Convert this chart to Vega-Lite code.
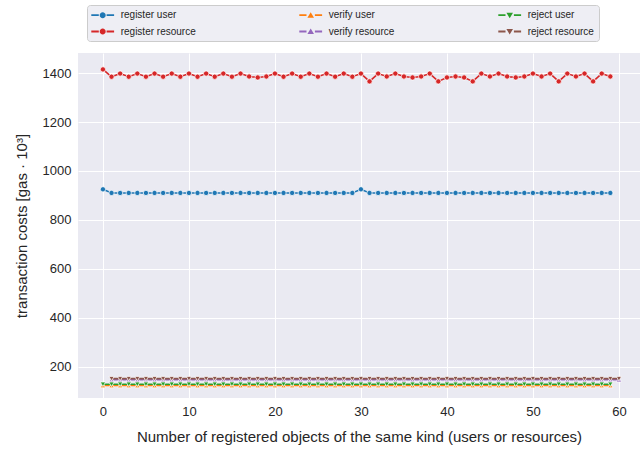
{
  "$schema": "https://vega.github.io/schema/vega-lite/v6.json",
  "width": 562,
  "height": 345,
  "autosize": {"type": "none"},
  "padding": {"left": 78, "top": 53, "right": 4, "bottom": 51},
  "background": "white",
  "config": {
    "view": {"fill": "#EAEAF2", "stroke": null},
    "font": "Liberation Sans",
    "axis": {
      "domain": false, "ticks": false, "grid": true, "gridColor": "white", "gridWidth": 1,
      "labelFont": "Liberation Sans", "labelFontSize": 13, "labelColor": "#262626",
      "titleFont": "Liberation Sans", "titleFontSize": 15, "titleFontWeight": "normal", "titleColor": "#262626"
    }
  },
  "data": {"values": [
    {"n":0,"series":"register user","gas":925},{"n":1,"series":"register user","gas":910},{"n":2,"series":"register user","gas":910},{"n":3,"series":"register user","gas":910},{"n":4,"series":"register user","gas":910},{"n":5,"series":"register user","gas":910},{"n":6,"series":"register user","gas":910},{"n":7,"series":"register user","gas":910},{"n":8,"series":"register user","gas":910},{"n":9,"series":"register user","gas":910},
    {"n":10,"series":"register user","gas":910},{"n":11,"series":"register user","gas":910},{"n":12,"series":"register user","gas":910},{"n":13,"series":"register user","gas":910},{"n":14,"series":"register user","gas":910},{"n":15,"series":"register user","gas":910},{"n":16,"series":"register user","gas":910},{"n":17,"series":"register user","gas":910},{"n":18,"series":"register user","gas":910},{"n":19,"series":"register user","gas":910},
    {"n":20,"series":"register user","gas":910},{"n":21,"series":"register user","gas":910},{"n":22,"series":"register user","gas":910},{"n":23,"series":"register user","gas":910},{"n":24,"series":"register user","gas":910},{"n":25,"series":"register user","gas":910},{"n":26,"series":"register user","gas":910},{"n":27,"series":"register user","gas":910},{"n":28,"series":"register user","gas":910},{"n":29,"series":"register user","gas":910},
    {"n":30,"series":"register user","gas":925},{"n":31,"series":"register user","gas":910},{"n":32,"series":"register user","gas":910},{"n":33,"series":"register user","gas":910},{"n":34,"series":"register user","gas":910},{"n":35,"series":"register user","gas":910},{"n":36,"series":"register user","gas":910},{"n":37,"series":"register user","gas":910},{"n":38,"series":"register user","gas":910},{"n":39,"series":"register user","gas":910},
    {"n":40,"series":"register user","gas":910},{"n":41,"series":"register user","gas":910},{"n":42,"series":"register user","gas":910},{"n":43,"series":"register user","gas":910},{"n":44,"series":"register user","gas":910},{"n":45,"series":"register user","gas":910},{"n":46,"series":"register user","gas":910},{"n":47,"series":"register user","gas":910},{"n":48,"series":"register user","gas":910},{"n":49,"series":"register user","gas":910},
    {"n":50,"series":"register user","gas":910},{"n":51,"series":"register user","gas":910},{"n":52,"series":"register user","gas":910},{"n":53,"series":"register user","gas":910},{"n":54,"series":"register user","gas":910},{"n":55,"series":"register user","gas":910},{"n":56,"series":"register user","gas":910},{"n":57,"series":"register user","gas":910},{"n":58,"series":"register user","gas":910},{"n":59,"series":"register user","gas":910},

    {"n":0,"series":"register resource","gas":1415},{"n":1,"series":"register resource","gas":1385},{"n":2,"series":"register resource","gas":1398},{"n":3,"series":"register resource","gas":1385},{"n":4,"series":"register resource","gas":1398},{"n":5,"series":"register resource","gas":1385},{"n":6,"series":"register resource","gas":1398},{"n":7,"series":"register resource","gas":1385},{"n":8,"series":"register resource","gas":1398},{"n":9,"series":"register resource","gas":1385},
    {"n":10,"series":"register resource","gas":1398},{"n":11,"series":"register resource","gas":1385},{"n":12,"series":"register resource","gas":1398},{"n":13,"series":"register resource","gas":1385},{"n":14,"series":"register resource","gas":1398},{"n":15,"series":"register resource","gas":1385},{"n":16,"series":"register resource","gas":1398},{"n":17,"series":"register resource","gas":1386},{"n":18,"series":"register resource","gas":1382},{"n":19,"series":"register resource","gas":1386},
    {"n":20,"series":"register resource","gas":1398},{"n":21,"series":"register resource","gas":1385},{"n":22,"series":"register resource","gas":1398},{"n":23,"series":"register resource","gas":1385},{"n":24,"series":"register resource","gas":1398},{"n":25,"series":"register resource","gas":1385},{"n":26,"series":"register resource","gas":1398},{"n":27,"series":"register resource","gas":1385},{"n":28,"series":"register resource","gas":1398},{"n":29,"series":"register resource","gas":1385},
    {"n":30,"series":"register resource","gas":1398},{"n":31,"series":"register resource","gas":1366},{"n":32,"series":"register resource","gas":1398},{"n":33,"series":"register resource","gas":1386},{"n":34,"series":"register resource","gas":1398},{"n":35,"series":"register resource","gas":1386},{"n":36,"series":"register resource","gas":1382},{"n":37,"series":"register resource","gas":1386},{"n":38,"series":"register resource","gas":1398},{"n":39,"series":"register resource","gas":1366},
    {"n":40,"series":"register resource","gas":1382},{"n":41,"series":"register resource","gas":1386},{"n":42,"series":"register resource","gas":1382},{"n":43,"series":"register resource","gas":1366},{"n":44,"series":"register resource","gas":1398},{"n":45,"series":"register resource","gas":1386},{"n":46,"series":"register resource","gas":1398},{"n":47,"series":"register resource","gas":1386},{"n":48,"series":"register resource","gas":1382},{"n":49,"series":"register resource","gas":1386},
    {"n":50,"series":"register resource","gas":1398},{"n":51,"series":"register resource","gas":1386},{"n":52,"series":"register resource","gas":1398},{"n":53,"series":"register resource","gas":1366},{"n":54,"series":"register resource","gas":1398},{"n":55,"series":"register resource","gas":1386},{"n":56,"series":"register resource","gas":1398},{"n":57,"series":"register resource","gas":1366},{"n":58,"series":"register resource","gas":1398},{"n":59,"series":"register resource","gas":1386},

    {"n":0,"series":"verify user","gas":123},{"n":1,"series":"verify user","gas":123},{"n":2,"series":"verify user","gas":123},{"n":3,"series":"verify user","gas":123},{"n":4,"series":"verify user","gas":123},{"n":5,"series":"verify user","gas":123},{"n":6,"series":"verify user","gas":123},{"n":7,"series":"verify user","gas":123},{"n":8,"series":"verify user","gas":123},{"n":9,"series":"verify user","gas":123},
    {"n":10,"series":"verify user","gas":123},{"n":11,"series":"verify user","gas":123},{"n":12,"series":"verify user","gas":123},{"n":13,"series":"verify user","gas":123},{"n":14,"series":"verify user","gas":123},{"n":15,"series":"verify user","gas":123},{"n":16,"series":"verify user","gas":123},{"n":17,"series":"verify user","gas":123},{"n":18,"series":"verify user","gas":123},{"n":19,"series":"verify user","gas":123},
    {"n":20,"series":"verify user","gas":123},{"n":21,"series":"verify user","gas":123},{"n":22,"series":"verify user","gas":123},{"n":23,"series":"verify user","gas":123},{"n":24,"series":"verify user","gas":123},{"n":25,"series":"verify user","gas":123},{"n":26,"series":"verify user","gas":123},{"n":27,"series":"verify user","gas":123},{"n":28,"series":"verify user","gas":123},{"n":29,"series":"verify user","gas":123},
    {"n":30,"series":"verify user","gas":123},{"n":31,"series":"verify user","gas":123},{"n":32,"series":"verify user","gas":123},{"n":33,"series":"verify user","gas":123},{"n":34,"series":"verify user","gas":123},{"n":35,"series":"verify user","gas":123},{"n":36,"series":"verify user","gas":123},{"n":37,"series":"verify user","gas":123},{"n":38,"series":"verify user","gas":123},{"n":39,"series":"verify user","gas":123},
    {"n":40,"series":"verify user","gas":123},{"n":41,"series":"verify user","gas":123},{"n":42,"series":"verify user","gas":123},{"n":43,"series":"verify user","gas":123},{"n":44,"series":"verify user","gas":123},{"n":45,"series":"verify user","gas":123},{"n":46,"series":"verify user","gas":123},{"n":47,"series":"verify user","gas":123},{"n":48,"series":"verify user","gas":123},{"n":49,"series":"verify user","gas":123},
    {"n":50,"series":"verify user","gas":123},{"n":51,"series":"verify user","gas":123},{"n":52,"series":"verify user","gas":123},{"n":53,"series":"verify user","gas":123},{"n":54,"series":"verify user","gas":123},{"n":55,"series":"verify user","gas":123},{"n":56,"series":"verify user","gas":123},{"n":57,"series":"verify user","gas":123},{"n":58,"series":"verify user","gas":123},{"n":59,"series":"verify user","gas":123},

    {"n":1,"series":"verify resource","gas":147},{"n":2,"series":"verify resource","gas":147},{"n":3,"series":"verify resource","gas":147},{"n":4,"series":"verify resource","gas":147},{"n":5,"series":"verify resource","gas":147},{"n":6,"series":"verify resource","gas":147},{"n":7,"series":"verify resource","gas":147},{"n":8,"series":"verify resource","gas":147},{"n":9,"series":"verify resource","gas":147},{"n":10,"series":"verify resource","gas":147},
    {"n":11,"series":"verify resource","gas":147},{"n":12,"series":"verify resource","gas":147},{"n":13,"series":"verify resource","gas":147},{"n":14,"series":"verify resource","gas":147},{"n":15,"series":"verify resource","gas":147},{"n":16,"series":"verify resource","gas":147},{"n":17,"series":"verify resource","gas":147},{"n":18,"series":"verify resource","gas":147},{"n":19,"series":"verify resource","gas":147},{"n":20,"series":"verify resource","gas":147},
    {"n":21,"series":"verify resource","gas":147},{"n":22,"series":"verify resource","gas":147},{"n":23,"series":"verify resource","gas":147},{"n":24,"series":"verify resource","gas":147},{"n":25,"series":"verify resource","gas":147},{"n":26,"series":"verify resource","gas":147},{"n":27,"series":"verify resource","gas":147},{"n":28,"series":"verify resource","gas":147},{"n":29,"series":"verify resource","gas":147},{"n":30,"series":"verify resource","gas":147},
    {"n":31,"series":"verify resource","gas":147},{"n":32,"series":"verify resource","gas":147},{"n":33,"series":"verify resource","gas":147},{"n":34,"series":"verify resource","gas":147},{"n":35,"series":"verify resource","gas":147},{"n":36,"series":"verify resource","gas":147},{"n":37,"series":"verify resource","gas":147},{"n":38,"series":"verify resource","gas":147},{"n":39,"series":"verify resource","gas":147},{"n":40,"series":"verify resource","gas":147},
    {"n":41,"series":"verify resource","gas":147},{"n":42,"series":"verify resource","gas":147},{"n":43,"series":"verify resource","gas":147},{"n":44,"series":"verify resource","gas":147},{"n":45,"series":"verify resource","gas":147},{"n":46,"series":"verify resource","gas":147},{"n":47,"series":"verify resource","gas":147},{"n":48,"series":"verify resource","gas":147},{"n":49,"series":"verify resource","gas":147},{"n":50,"series":"verify resource","gas":147},
    {"n":51,"series":"verify resource","gas":147},{"n":52,"series":"verify resource","gas":147},{"n":53,"series":"verify resource","gas":147},{"n":54,"series":"verify resource","gas":147},{"n":55,"series":"verify resource","gas":147},{"n":56,"series":"verify resource","gas":147},{"n":57,"series":"verify resource","gas":147},{"n":58,"series":"verify resource","gas":147},{"n":59,"series":"verify resource","gas":147},{"n":60,"series":"verify resource","gas":147},

    {"n":0,"series":"reject user","gas":128},{"n":1,"series":"reject user","gas":128},{"n":2,"series":"reject user","gas":128},{"n":3,"series":"reject user","gas":128},{"n":4,"series":"reject user","gas":128},{"n":5,"series":"reject user","gas":128},{"n":6,"series":"reject user","gas":128},{"n":7,"series":"reject user","gas":128},{"n":8,"series":"reject user","gas":128},{"n":9,"series":"reject user","gas":128},
    {"n":10,"series":"reject user","gas":128},{"n":11,"series":"reject user","gas":128},{"n":12,"series":"reject user","gas":128},{"n":13,"series":"reject user","gas":128},{"n":14,"series":"reject user","gas":128},{"n":15,"series":"reject user","gas":128},{"n":16,"series":"reject user","gas":128},{"n":17,"series":"reject user","gas":128},{"n":18,"series":"reject user","gas":128},{"n":19,"series":"reject user","gas":128},
    {"n":20,"series":"reject user","gas":128},{"n":21,"series":"reject user","gas":128},{"n":22,"series":"reject user","gas":128},{"n":23,"series":"reject user","gas":128},{"n":24,"series":"reject user","gas":128},{"n":25,"series":"reject user","gas":128},{"n":26,"series":"reject user","gas":128},{"n":27,"series":"reject user","gas":128},{"n":28,"series":"reject user","gas":128},{"n":29,"series":"reject user","gas":128},
    {"n":30,"series":"reject user","gas":128},{"n":31,"series":"reject user","gas":128},{"n":32,"series":"reject user","gas":128},{"n":33,"series":"reject user","gas":128},{"n":34,"series":"reject user","gas":128},{"n":35,"series":"reject user","gas":128},{"n":36,"series":"reject user","gas":128},{"n":37,"series":"reject user","gas":128},{"n":38,"series":"reject user","gas":128},{"n":39,"series":"reject user","gas":128},
    {"n":40,"series":"reject user","gas":128},{"n":41,"series":"reject user","gas":128},{"n":42,"series":"reject user","gas":128},{"n":43,"series":"reject user","gas":128},{"n":44,"series":"reject user","gas":128},{"n":45,"series":"reject user","gas":128},{"n":46,"series":"reject user","gas":128},{"n":47,"series":"reject user","gas":128},{"n":48,"series":"reject user","gas":128},{"n":49,"series":"reject user","gas":128},
    {"n":50,"series":"reject user","gas":128},{"n":51,"series":"reject user","gas":128},{"n":52,"series":"reject user","gas":128},{"n":53,"series":"reject user","gas":128},{"n":54,"series":"reject user","gas":128},{"n":55,"series":"reject user","gas":128},{"n":56,"series":"reject user","gas":128},{"n":57,"series":"reject user","gas":128},{"n":58,"series":"reject user","gas":128},{"n":59,"series":"reject user","gas":128},

    {"n":1,"series":"reject resource","gas":151},{"n":2,"series":"reject resource","gas":151},{"n":3,"series":"reject resource","gas":151},{"n":4,"series":"reject resource","gas":151},{"n":5,"series":"reject resource","gas":151},{"n":6,"series":"reject resource","gas":151},{"n":7,"series":"reject resource","gas":151},{"n":8,"series":"reject resource","gas":151},{"n":9,"series":"reject resource","gas":151},{"n":10,"series":"reject resource","gas":151},
    {"n":11,"series":"reject resource","gas":151},{"n":12,"series":"reject resource","gas":151},{"n":13,"series":"reject resource","gas":151},{"n":14,"series":"reject resource","gas":151},{"n":15,"series":"reject resource","gas":151},{"n":16,"series":"reject resource","gas":151},{"n":17,"series":"reject resource","gas":151},{"n":18,"series":"reject resource","gas":151},{"n":19,"series":"reject resource","gas":151},{"n":20,"series":"reject resource","gas":151},
    {"n":21,"series":"reject resource","gas":151},{"n":22,"series":"reject resource","gas":151},{"n":23,"series":"reject resource","gas":151},{"n":24,"series":"reject resource","gas":151},{"n":25,"series":"reject resource","gas":151},{"n":26,"series":"reject resource","gas":151},{"n":27,"series":"reject resource","gas":151},{"n":28,"series":"reject resource","gas":151},{"n":29,"series":"reject resource","gas":151},{"n":30,"series":"reject resource","gas":151},
    {"n":31,"series":"reject resource","gas":151},{"n":32,"series":"reject resource","gas":151},{"n":33,"series":"reject resource","gas":151},{"n":34,"series":"reject resource","gas":151},{"n":35,"series":"reject resource","gas":151},{"n":36,"series":"reject resource","gas":151},{"n":37,"series":"reject resource","gas":151},{"n":38,"series":"reject resource","gas":151},{"n":39,"series":"reject resource","gas":151},{"n":40,"series":"reject resource","gas":151},
    {"n":41,"series":"reject resource","gas":151},{"n":42,"series":"reject resource","gas":151},{"n":43,"series":"reject resource","gas":151},{"n":44,"series":"reject resource","gas":151},{"n":45,"series":"reject resource","gas":151},{"n":46,"series":"reject resource","gas":151},{"n":47,"series":"reject resource","gas":151},{"n":48,"series":"reject resource","gas":151},{"n":49,"series":"reject resource","gas":151},{"n":50,"series":"reject resource","gas":151},
    {"n":51,"series":"reject resource","gas":151},{"n":52,"series":"reject resource","gas":151},{"n":53,"series":"reject resource","gas":151},{"n":54,"series":"reject resource","gas":151},{"n":55,"series":"reject resource","gas":151},{"n":56,"series":"reject resource","gas":151},{"n":57,"series":"reject resource","gas":151},{"n":58,"series":"reject resource","gas":151},{"n":59,"series":"reject resource","gas":151},{"n":60,"series":"reject resource","gas":151}
  ]},
  "encoding": {
    "x": {"field": "n", "type": "quantitative",
      "scale": {"domain": [-2.9, 62.45], "nice": false, "zero": false},
      "axis": {"values": [0, 10, 20, 30, 40, 50, 60], "labelPadding": 7, "titlePadding": 11,
        "title": "Number of registered objects of the same kind (users or resources)"}},
    "y": {"field": "gas", "type": "quantitative",
      "scale": {"domain": [72, 1482], "nice": false, "zero": false},
      "axis": {"values": [200, 400, 600, 800, 1000, 1200, 1400], "format": "d", "labelPadding": 7, "titlePadding": 13,
        "title": "transaction costs [gas · 10³]"}},
    "color": {"field": "series", "type": "nominal",
      "scale": {
        "domain": ["register user", "verify user", "reject user", "register resource", "verify resource", "reject resource"],
        "range": ["#1f77b4", "#ff7f0e", "#2ca02c", "#d62728", "#9467bd", "#8c564b"]},
      "legend": {
        "title": null, "orient": "none", "legendX": 9, "legendY": -48,
        "direction": "horizontal", "columns": 3, "columnPadding": 103, "rowPadding": 5.3,
        "padding": 4.2, "symbolSize": 144, "symbolOffset": 5.5, "labelOffset": 12,
        "labelFont": "Liberation Sans", "labelFontSize": 10, "labelColor": "#262626",
        "fillColor": "#EEEEF4", "strokeColor": "#CCCCCC", "cornerRadius": 3,
        "encode": {"symbols": {"update": {
          "shape": {"signal": "indexof(datum.value,'register')===0 ? 'M-1.9,-0.15H-0.65V0.15H-1.9Z M0.65,-0.15H1.9V0.15H0.65Z M0.5,0A0.5,0.5,0,1,1,-0.5,0A0.5,0.5,0,1,1,0.5,0Z' : (indexof(datum.value,'verify')===0 ? 'M-1.9,-0.15H-0.7V0.15H-1.9Z M0.7,-0.15H1.9V0.15H0.7Z M-0.55,0.42L0,-0.5L0.55,0.42Z' : 'M-1.9,-0.15H-0.7V0.15H-1.9Z M0.7,-0.15H1.9V0.15H0.7Z M-0.55,-0.42L0.55,-0.42L0,0.5Z')"},
          "fill": {"scale": "color", "field": "value"},
          "stroke": {"value": "transparent"},
          "strokeWidth": {"value": 0},
          "opacity": {"value": 1}
        }}}
      }}
  },
  "layer": [
    {"transform": [{"filter": "datum.series === 'register user'"}], "mark": {"type": "line", "strokeWidth": 1.6}},
    {"transform": [{"filter": "datum.series === 'register user'"}], "mark": {"type": "point", "shape": "circle", "filled": true, "size": 28, "opacity": 1, "stroke": "white", "strokeWidth": 0.75}},
    {"transform": [{"filter": "datum.series === 'register resource'"}], "mark": {"type": "line", "strokeWidth": 1.6}},
    {"transform": [{"filter": "datum.series === 'register resource'"}], "mark": {"type": "point", "shape": "circle", "filled": true, "size": 28, "opacity": 1, "stroke": "white", "strokeWidth": 0.75}},
    {"transform": [{"filter": "datum.series === 'verify user'"}], "mark": {"type": "line", "strokeWidth": 1.6}},
    {"transform": [{"filter": "datum.series === 'verify user'"}], "mark": {"type": "point", "shape": "triangle-up", "filled": true, "size": 28, "opacity": 1, "stroke": "white", "strokeWidth": 0.75}},
    {"transform": [{"filter": "datum.series === 'verify resource'"}], "mark": {"type": "line", "strokeWidth": 1.6}},
    {"transform": [{"filter": "datum.series === 'verify resource'"}], "mark": {"type": "point", "shape": "triangle-up", "filled": true, "size": 28, "opacity": 1, "stroke": "white", "strokeWidth": 0.75}},
    {"transform": [{"filter": "datum.series === 'reject user'"}], "mark": {"type": "line", "strokeWidth": 1.6}},
    {"transform": [{"filter": "datum.series === 'reject user'"}], "mark": {"type": "point", "shape": "triangle-down", "filled": true, "size": 28, "opacity": 1, "stroke": "white", "strokeWidth": 0.75}},
    {"transform": [{"filter": "datum.series === 'reject resource'"}], "mark": {"type": "line", "strokeWidth": 1.6}},
    {"transform": [{"filter": "datum.series === 'reject resource'"}], "mark": {"type": "point", "shape": "triangle-down", "filled": true, "size": 28, "opacity": 1, "stroke": "white", "strokeWidth": 0.75}}
  ]
}
